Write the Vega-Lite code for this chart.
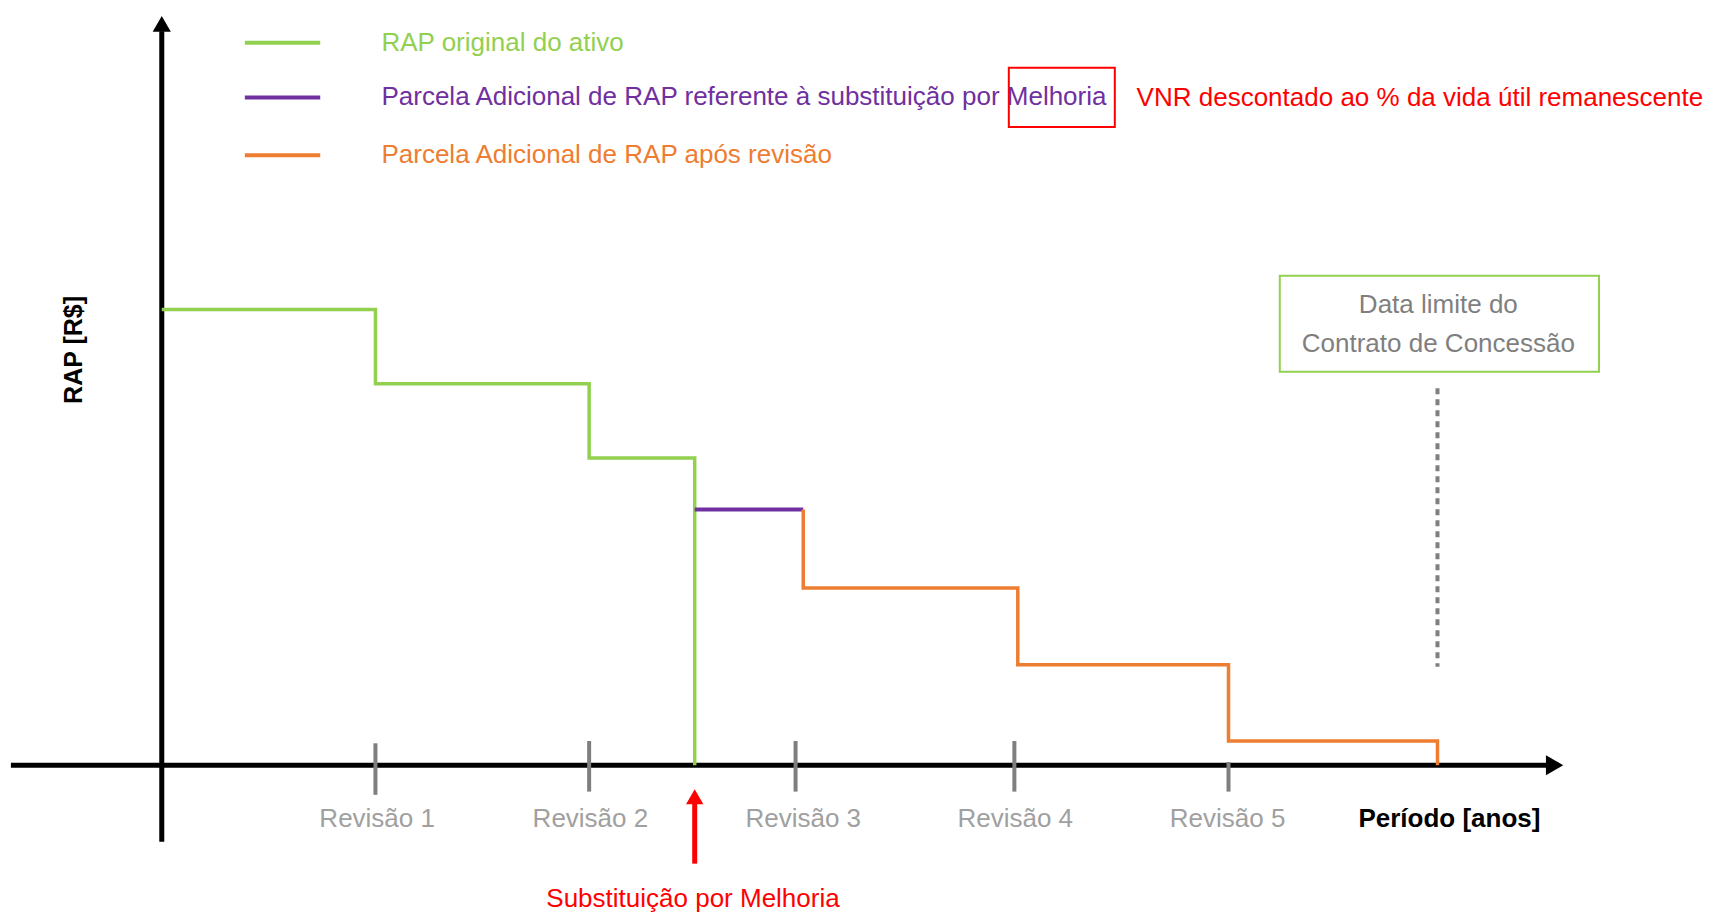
{
  "$schema": "https://vega.github.io/schema/vega-lite/v6.json",
  "width": 1714,
  "height": 915,
  "autosize": "none",
  "padding": 0,
  "background": "white",
  "config": {"view": {"stroke": null}, "text": {"font": "Liberation Sans", "fontSize": 26}},
  "datasets": {
    "green": [{"x": 0, "y": 100, "s": "g"}, {"x": 5.0, "y": 83.69, "s": "g"}, {"x": 10.0, "y": 67.39, "s": "g"}, {"x": 12.47, "y": 0, "s": "g"}],
    "purple": [{"x": 12.47, "y": 56.12, "s": "p"}, {"x": 15.01, "y": 56.12, "s": "p"}],
    "orange": [{"x": 15.01, "y": 56.12, "s": "o", "i": 1}, {"x": 15.01, "y": 38.85, "s": "o", "i": 2}, {"x": 20.03, "y": 22.06, "s": "o", "i": 3}, {"x": 24.96, "y": 5.28, "s": "o", "i": 4}, {"x": 29.85, "y": 0, "s": "o", "i": 5}],
    "yaxis": [{"x": 0, "y": -16.8, "y2": 161}],
    "xaxis": [{"x": -3.53, "x2": 32.5, "y": 0}],
    "arrowUp": [{"x": 0, "y": 162.65}],
    "arrowRight": [{"x": 32.59, "y": 0}],
    "ticks": [{"x": 5.0, "y": 4.8, "y2": -6.5}, {"x": 10.0, "y": 5.3, "y2": -5.8}, {"x": 14.83, "y": 5.3, "y2": -5.8}, {"x": 19.95, "y": 5.3, "y2": -5.8}, {"x": 24.96, "y": 0.7, "y2": -5.8}],
    "revisoes": [{"x": 5.04, "y": -11.75, "t": "Revisão 1"}, {"x": 10.03, "y": -11.75, "t": "Revisão 2"}, {"x": 15.01, "y": -11.75, "t": "Revisão 3"}, {"x": 19.97, "y": -11.75, "t": "Revisão 4"}, {"x": 24.94, "y": -11.75, "t": "Revisão 5"}],
    "periodo": [{"x": 30.13, "y": -11.75, "t": "Período [anos]"}],
    "redShaft": [{"x": 12.47, "y": -21.6, "y2": -8.5}],
    "redHead": [{"x": 12.47, "y": -6.93}],
    "subst": [{"x": 12.43, "y": -29.26, "t": "Substituição por Melhoria"}],
    "dotted": [{"x": 29.85, "y": 82.7, "y2": 21.6}],
    "box": [{"x": 26.16, "x2": 33.63, "y": 107.4, "y2": 86.3}],
    "boxText": [{"x": 29.87, "y": 100.96, "t": "Data limite do"}, {"x": 29.87, "y": 92.33, "t": "Contrato de Concessão"}],
    "legendLines": [{"x": 1.944, "x2": 3.708, "y": 158.5, "s": "g"}, {"x": 1.944, "x2": 3.708, "y": 146.5, "s": "p"}, {"x": 1.944, "x2": 3.708, "y": 133.8, "s": "o"}],
    "legendText": [{"x": 5.14, "y": 158.5, "s": "g", "t": "RAP original do ativo"}, {"x": 5.14, "y": 146.5, "s": "p", "t": "Parcela Adicional de RAP referente à substituição por Melhoria"}, {"x": 5.14, "y": 133.8, "s": "o", "t": "Parcela Adicional de RAP após revisão"}],
    "redBox": [{"x": 19.82, "x2": 22.3, "y": 153.0, "y2": 140.0}],
    "vnr": [{"x": 22.81, "y": 146.3, "t": "VNR descontado ao % da vida útil remanescente"}],
    "ylabel": [{"x": -2.05, "y": 91.1, "t": "RAP [R$]"}]
  },
  "encoding": {
    "x": {"field": "x", "type": "quantitative", "scale": {"domain": [-3.785, 36.32], "nice": false, "zero": false}, "axis": null},
    "y": {"field": "y", "type": "quantitative", "scale": {"domain": [-32.87, 167.88], "nice": false, "zero": false}, "axis": null}
  },
  "layer": [
    {"data": {"name": "yaxis"}, "mark": {"type": "rule", "color": "black", "strokeWidth": 5}, "encoding": {"y2": {"field": "y2"}}},
    {"data": {"name": "xaxis"}, "mark": {"type": "rule", "color": "black", "strokeWidth": 5}, "encoding": {"x2": {"field": "x2"}}},
    {"data": {"name": "arrowUp"}, "mark": {"type": "point", "shape": "triangle-up", "filled": true, "color": "black", "size": 330, "opacity": 1}},
    {"data": {"name": "arrowRight"}, "mark": {"type": "point", "shape": "triangle-right", "filled": true, "color": "black", "size": 400, "opacity": 1}},
    {"data": {"name": "ticks"}, "mark": {"type": "rule", "color": "#7f7f7f", "strokeWidth": 4}, "encoding": {"y2": {"field": "y2"}}},
    {"data": {"name": "green"}, "mark": {"type": "line", "interpolate": "step-after", "strokeWidth": 3.5}, "encoding": {"color": {"field": "s", "type": "nominal", "scale": {"domain": ["g", "p", "o"], "range": ["#92D050", "#7030A0", "#ED7D31"]}, "legend": null}}},
    {"data": {"name": "purple"}, "mark": {"type": "line", "strokeWidth": 4}, "encoding": {"color": {"field": "s", "type": "nominal", "legend": null}}},
    {"data": {"name": "orange"}, "mark": {"type": "line", "interpolate": "step-after", "strokeWidth": 3.5}, "encoding": {"color": {"field": "s", "type": "nominal", "legend": null}, "order": {"field": "i", "type": "quantitative"}}},
    {"data": {"name": "revisoes"}, "mark": {"type": "text", "color": "#a0a0a0", "align": "center", "baseline": "middle"}, "encoding": {"text": {"field": "t"}}},
    {"data": {"name": "periodo"}, "mark": {"type": "text", "color": "black", "fontWeight": "bold", "align": "center", "baseline": "middle"}, "encoding": {"text": {"field": "t"}}},
    {"data": {"name": "redShaft"}, "mark": {"type": "rule", "color": "#ff0000", "strokeWidth": 5}, "encoding": {"y2": {"field": "y2"}}},
    {"data": {"name": "redHead"}, "mark": {"type": "point", "shape": "triangle-up", "filled": true, "color": "#ff0000", "size": 300, "opacity": 1}},
    {"data": {"name": "subst"}, "mark": {"type": "text", "color": "#ff0000", "align": "center", "baseline": "middle"}, "encoding": {"text": {"field": "t"}}},
    {"data": {"name": "dotted"}, "mark": {"type": "rule", "color": "#7f7f7f", "strokeWidth": 4, "strokeDash": [6, 5]}, "encoding": {"y2": {"field": "y2"}}},
    {"data": {"name": "box"}, "mark": {"type": "rect", "fill": "white", "stroke": "#92D050", "strokeWidth": 2}, "encoding": {"x2": {"field": "x2"}, "y2": {"field": "y2"}}},
    {"data": {"name": "boxText"}, "mark": {"type": "text", "color": "#7f7f7f", "align": "center", "baseline": "middle"}, "encoding": {"text": {"field": "t"}}},
    {"data": {"name": "legendLines"}, "mark": {"type": "rule", "strokeWidth": 4}, "encoding": {"x2": {"field": "x2"}, "color": {"field": "s", "type": "nominal", "legend": null}}},
    {"data": {"name": "legendText"}, "mark": {"type": "text", "align": "left", "baseline": "middle"}, "encoding": {"text": {"field": "t"}, "color": {"field": "s", "type": "nominal", "legend": null}}},
    {"data": {"name": "redBox"}, "mark": {"type": "rect", "filled": false, "fill": null, "stroke": "#ff0000", "strokeWidth": 2}, "encoding": {"x2": {"field": "x2"}, "y2": {"field": "y2"}}},
    {"data": {"name": "vnr"}, "mark": {"type": "text", "color": "#ff0000", "align": "left", "baseline": "middle"}, "encoding": {"text": {"field": "t"}}},
    {"data": {"name": "ylabel"}, "mark": {"type": "text", "color": "black", "fontSize": 25, "fontWeight": "bold", "angle": 270, "align": "center", "baseline": "middle"}, "encoding": {"text": {"field": "t"}}}
  ]
}
